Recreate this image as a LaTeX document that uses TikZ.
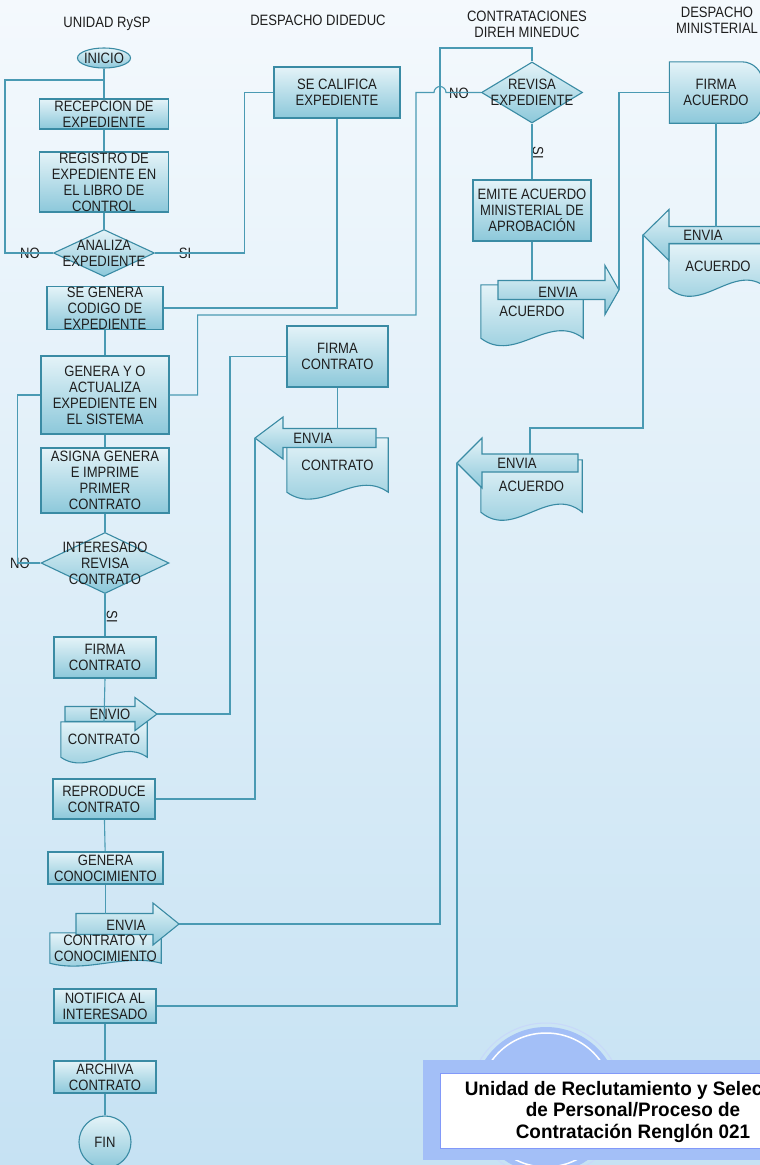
\documentclass[tikz,border=0pt]{standalone}
\usepackage{fontspec}
\setmainfont{Liberation Sans}[FakeStretch=0.87]
\newfontfamily\titulofont{Liberation Sans}[FakeStretch=0.97]
\usetikzlibrary{shapes.geometric,calc}
\definecolor{borde}{HTML}{3A8BA4}
\definecolor{linea}{HTML}{4A9AB3}
\definecolor{claro}{HTML}{E4F3F8}
\definecolor{oscuro}{HTML}{8CC8DA}
\definecolor{texto}{HTML}{1E1E1E}
\definecolor{fondoarriba}{HTML}{F4F9FD}
\definecolor{fondoabajo}{HTML}{C6E2F3}
\definecolor{lila}{HTML}{A3BFF7}
\pgfdeclarelayer{fondo}
\pgfsetlayers{fondo,main}
\tikzset{caja/.style={draw=borde, line width=1.1pt, top color=claro, bottom color=oscuro, inner sep=0pt, align=center, font=\fontsize{15}{16}\selectfont, text=texto}}
\tikzset{decision/.style={diamond, draw=borde, line width=1.1pt, top color=claro, bottom color=oscuro, inner sep=0pt}}
\tikzset{inicio/.style={ellipse, draw=borde, line width=1.1pt, top color=claro, bottom color=oscuro, inner sep=0pt}}
\tikzset{docu/.style={inner sep=0pt, align=center, font=\fontsize{15}{16}\selectfont, text=texto}}
\tikzset{docfill/.style={draw=borde, line width=1.1pt, top color=claro, bottom color=oscuro}}
\tikzset{etiqueta/.style={inner sep=0pt, align=center, font=\fontsize{15}{16}\selectfont, text=texto}}
\tikzset{encabezado/.style={align=center, inner sep=0pt, font=\fontsize{15}{16}\selectfont, text=texto}}
\tikzset{conector/.style={draw=linea, line width=1.1pt}}
\tikzset{titulo/.style={align=center, inner sep=0pt, font=\titulofont\bfseries\fontsize{19.5}{21.5}\selectfont, text=black}}

% borde de documento con base ondulada
\newcommand{\docborde}[2]{%
  \begin{pgfonlayer}{fondo}
    \path[docfill] (#1.north west) -- (#1.north east) -- (#1.south east)
      .. controls ($(#1.south west)!0.667!(#1.south east)+(0,-#2)$) and ($(#1.south west)!0.333!(#1.south east)+(0,#2)$) .. (#1.south west) -- cycle;
  \end{pgfonlayer}}

% flecha de bloque: nombre, punta x, punta y, sentido, largo, largo cabeza, media cabeza, medio cuerpo
\newcommand{\flecha}[8]{%
  \coordinate (#1) at (#2,#3);
  \coordinate (#1-top) at ({#2-(#4)*(#6+(#5-#6)/2)},{#3-#8});
  \begin{pgfonlayer}{fondo}
    \path[docfill] (#2,#3) -- ({#2-(#4)*#6},{#3-#7}) -- ({#2-(#4)*#6},{#3-#8}) -- ({#2-(#4)*#5},{#3-#8})
      -- ({#2-(#4)*#5},{#3+#8}) -- ({#2-(#4)*#6},{#3+#8}) -- ({#2-(#4)*#6},{#3+#7}) -- cycle;
  \end{pgfonlayer}}

\begin{document}
\begin{tikzpicture}[x=1pt, y=-1pt]
  \useasboundingbox (0,0) rectangle (760,1165);
  \begin{pgfonlayer}{fondo}
    \shade[top color=fondoarriba, bottom color=fondoabajo] (0,0) rectangle (760,1165);
  \end{pgfonlayer}

  % encabezados
  \node[encabezado] (Unidad) at (107,24) {UNIDAD RySP};
  \node[encabezado] (Dideduc) at (318,20) {DESPACHO DIDEDUC};
  \node[encabezado] (Direh) at (527,24) {CONTRATACIONES\\DIREH MINEDUC};
  \node[encabezado] (Ministerial) at (717,20.5) {DESPACHO\\MINISTERIAL};

  % UNIDAD RySP
  \node[inicio, minimum width=53pt, minimum height=20pt, label={[etiqueta]center:INICIO}] (Inicio) at (104,58) {};
  \node[caja, minimum width=129pt, minimum height=30pt] (Recepcion) at (104,114) {RECEPCION DE\\EXPEDIENTE};
  \node[caja, minimum width=129pt, minimum height=60pt] (Registro) at (104,182) {REGISTRO DE\\EXPEDIENTE EN\\EL LIBRO DE\\CONTROL};
  \node[decision, minimum width=101pt, minimum height=47pt, label={[etiqueta]center:ANALIZA\\EXPEDIENTE}] (Analiza) at (104,253) {};
  \node[etiqueta] (NoAnaliza) at (30,253) {NO};
  \node[etiqueta] (SiAnaliza) at (185,253) {SI};
  \node[caja, minimum width=116pt, minimum height=41pt] (Codigo) at (105,308) {SE GENERA\\CODIGO DE\\EXPEDIENTE};
  \node[caja, minimum width=128pt, minimum height=78pt] (Actualiza) at (105,395) {GENERA Y O\\ACTUALIZA\\EXPEDIENTE EN\\EL SISTEMA};
  \node[caja, minimum width=128pt, minimum height=65pt] (Asigna) at (105,480.5) {ASIGNA GENERA\\E IMPRIME\\PRIMER\\CONTRATO};
  \node[decision, minimum width=128pt, minimum height=61pt, label={[etiqueta]center:INTERESADO\\REVISA\\CONTRATO}] (Interesado) at (105,563) {};
  \node[etiqueta] (NoInteresado) at (20,563) {NO};
  \node[etiqueta, rotate=-90] (SiInteresado) at (112,617) {SI};
  \node[caja, minimum width=102pt, minimum height=41pt] (FirmaContrato) at (105,657.5) {FIRMA\\CONTRATO};
  \node[docu, minimum width=86pt, minimum height=35pt] (DocContrato) at (104,739.5) {CONTRATO};
  \docborde{DocContrato}{20}
  \flecha{FlechaEnvio}{157}{714}{1}{92}{22}{16.5}{7.5}
  \node[etiqueta] (Envio) at (110,714) {ENVIO};
  \node[caja, minimum width=102pt, minimum height=40pt] (Reproduce) at (104,799) {REPRODUCE\\CONTRATO};
  \node[caja, minimum width=115pt, minimum height=32pt] (Conocimiento) at (105.5,868) {GENERA\\CONOCIMIENTO};
  \node[docu, minimum width=111pt, minimum height=30pt] (DocConoc) at (105.5,948) {CONTRATO Y\\CONOCIMIENTO};
  \docborde{DocConoc}{10}
  \flecha{FlechaConoc}{179}{924}{1}{103}{26}{21}{10.5}
  \node[etiqueta] (EnviaConoc) at (126,925) {ENVIA};
  \node[caja, minimum width=102pt, minimum height=34pt] (Notifica) at (105,1006) {NOTIFICA AL\\INTERESADO};
  \node[caja, minimum width=102pt, minimum height=32pt] (Archiva) at (105,1077) {ARCHIVA\\CONTRATO};
  \node[inicio, circle, minimum size=52pt, label={[etiqueta]center:FIN}] (Fin) at (105,1142) {};

  % DESPACHO DIDEDUC
  \node[caja, minimum width=126pt, minimum height=51pt] (Califica) at (337,92.5) {SE CALIFICA\\EXPEDIENTE};
  \node[caja, minimum width=101pt, minimum height=61pt] (FirmaContrato2) at (337.5,356.5) {FIRMA\\CONTRATO};
  \node[docu, minimum width=101pt, minimum height=54pt] (DocContrato2) at (337.5,465) {CONTRATO};
  \docborde{DocContrato2}{24}
  \flecha{FlechaContrato}{255}{438}{-1}{121}{28}{21}{9.5}
  \node[etiqueta] (EnviaContrato) at (313,438) {ENVIA};

  % CONTRATACIONES DIREH MINEDUC
  \node[decision, minimum width=101pt, minimum height=61pt, label={[etiqueta]center:REVISA\\EXPEDIENTE}] (Revisa) at (532,92.5) {};
  \node[etiqueta] (NoRevisa) at (459,93) {NO};
  \node[etiqueta, rotate=-90] (SiRevisa) at (538,153) {SI};
  \node[caja, minimum width=118pt, minimum height=61pt] (Emite) at (532,210.5) {EMITE ACUERDO\\MINISTERIAL DE\\APROBACIÓN};
  \node[docu, minimum width=102pt, minimum height=53pt] (DocAcuerdo1) at (532,311.5) {\\[-6pt]ACUERDO};
  \docborde{DocAcuerdo1}{26}
  \flecha{FlechaAcuerdo1}{619}{290}{1}{121}{14}{24.5}{9.5}
  \node[etiqueta] (EnviaAcuerdo1) at (558,292) {ENVIA};
  \node[docu, minimum width=101pt, minimum height=52pt] (DocAcuerdo3) at (531.5,486) {ACUERDO};
  \docborde{DocAcuerdo3}{28}
  \flecha{FlechaAcuerdo3}{457}{463}{-1}{121}{25}{25}{9}
  \node[etiqueta] (EnviaAcuerdo3) at (517,463) {ENVIA};

  % DESPACHO MINISTERIAL
  \node[docu, minimum width=93pt, minimum height=61pt] (FirmaAcuerdo) at (716,92.5) {FIRMA\\ACUERDO};
  \begin{pgfonlayer}{fondo}
    \path[docfill] (FirmaAcuerdo.south west) -- (FirmaAcuerdo.north west) -- ($(FirmaAcuerdo.north east)+(-21,0)$)
      arc[start angle=90, end angle=0, radius=21pt] -- ($(FirmaAcuerdo.south east)+(0,-21)$)
      arc[start angle=0, end angle=-90, radius=21pt] -- cycle;
  \end{pgfonlayer}
  \node[docu, minimum width=98pt, minimum height=44pt] (DocAcuerdo2) at (718,266) {ACUERDO};
  \docborde{DocAcuerdo2}{28}
  \flecha{FlechaAcuerdo2}{643}{235}{-1}{150}{26}{25.5}{8.5}
  \node[etiqueta] (EnviaAcuerdo2) at (703,235) {ENVIA};

  % conectores
  \draw[conector] (Inicio) -- (Recepcion);
  \draw[conector] (Recepcion) -- (Registro);
  \draw[conector] (Registro) -- (Analiza);
  \coordinate (Retorno) at (104,80);
  \draw[conector] (Analiza.west) -- ++(-48,0) |- (Retorno);
  \draw[conector] (Analiza.east) -- ++(89,0) |- (Califica.west);
  \draw[conector] (Califica.south) |- (Codigo.east);
  \draw[conector] (Codigo) -- (Actualiza);
  \draw[conector] (Actualiza.east) -- ++(28,0) -- ++(0,-80) -- (416,315) -- (416,92.5) -- (434,92.5)
    arc[start angle=180, end angle=0, radius=6pt] -- (Revisa.west);
  \draw[conector] (Actualiza.west) -- ++(-23,0) |- (Interesado.west);
  \draw[conector] (Actualiza) -- (Asigna);
  \draw[conector] (Asigna) -- (Interesado);
  \draw[conector] (Interesado) -- (FirmaContrato);
  \draw[conector] (FirmaContrato.south) -- (DocContrato.north);
  \draw[conector] (FlechaEnvio) -- ++(73,0) |- (FirmaContrato2.west);
  \draw[conector] (FirmaContrato2.south) -- (FirmaContrato2.south |- FlechaContrato-top);
  \draw[conector] (FlechaContrato) |- (Reproduce.east);
  \draw[conector] (Reproduce) -- (Conocimiento);
  \draw[conector] (Conocimiento.south) -- (Conocimiento.south |- FlechaConoc-top);
  \draw[conector] (FlechaConoc) -- ++(261,0) -- ++(0,-876) -| (Revisa.north);
  \draw[conector] (Notifica.east) -| (FlechaAcuerdo3);
  \draw[conector] (Notifica) -- (Archiva);
  \draw[conector] (Archiva) -- (Fin);
  \draw[conector] (Revisa) -- (Emite);
  \draw[conector] (Emite.south) -- (Emite.south |- FlechaAcuerdo1-top);
  \draw[conector] (FlechaAcuerdo1) |- (FirmaAcuerdo.west);
  \draw[conector] (FirmaAcuerdo.south) -- (FirmaAcuerdo.south |- FlechaAcuerdo2-top);
  \draw[conector] (FlechaAcuerdo2) -- ++(0,193) -| (FlechaAcuerdo3-top);

  % recuadro del titulo
  \draw[lila!60, line width=1pt] (546,1100) circle[radius=77pt];
  \fill[lila] (546,1100) circle[radius=73pt];
  \draw[white, line width=1.5pt] (546,1100) circle[radius=67pt];
  \fill[lila] (423,1060) rectangle (775,1160);
  \draw[fill=white, draw=lila!80!blue, line width=1pt] (440,1073) rectangle (775,1148);
  \node[titulo] (Titulo) at (633,1111.5) {Unidad de Reclutamiento y Selección\\de Personal/Proceso de\\Contratación Renglón 021};
\end{tikzpicture}
\end{document}
